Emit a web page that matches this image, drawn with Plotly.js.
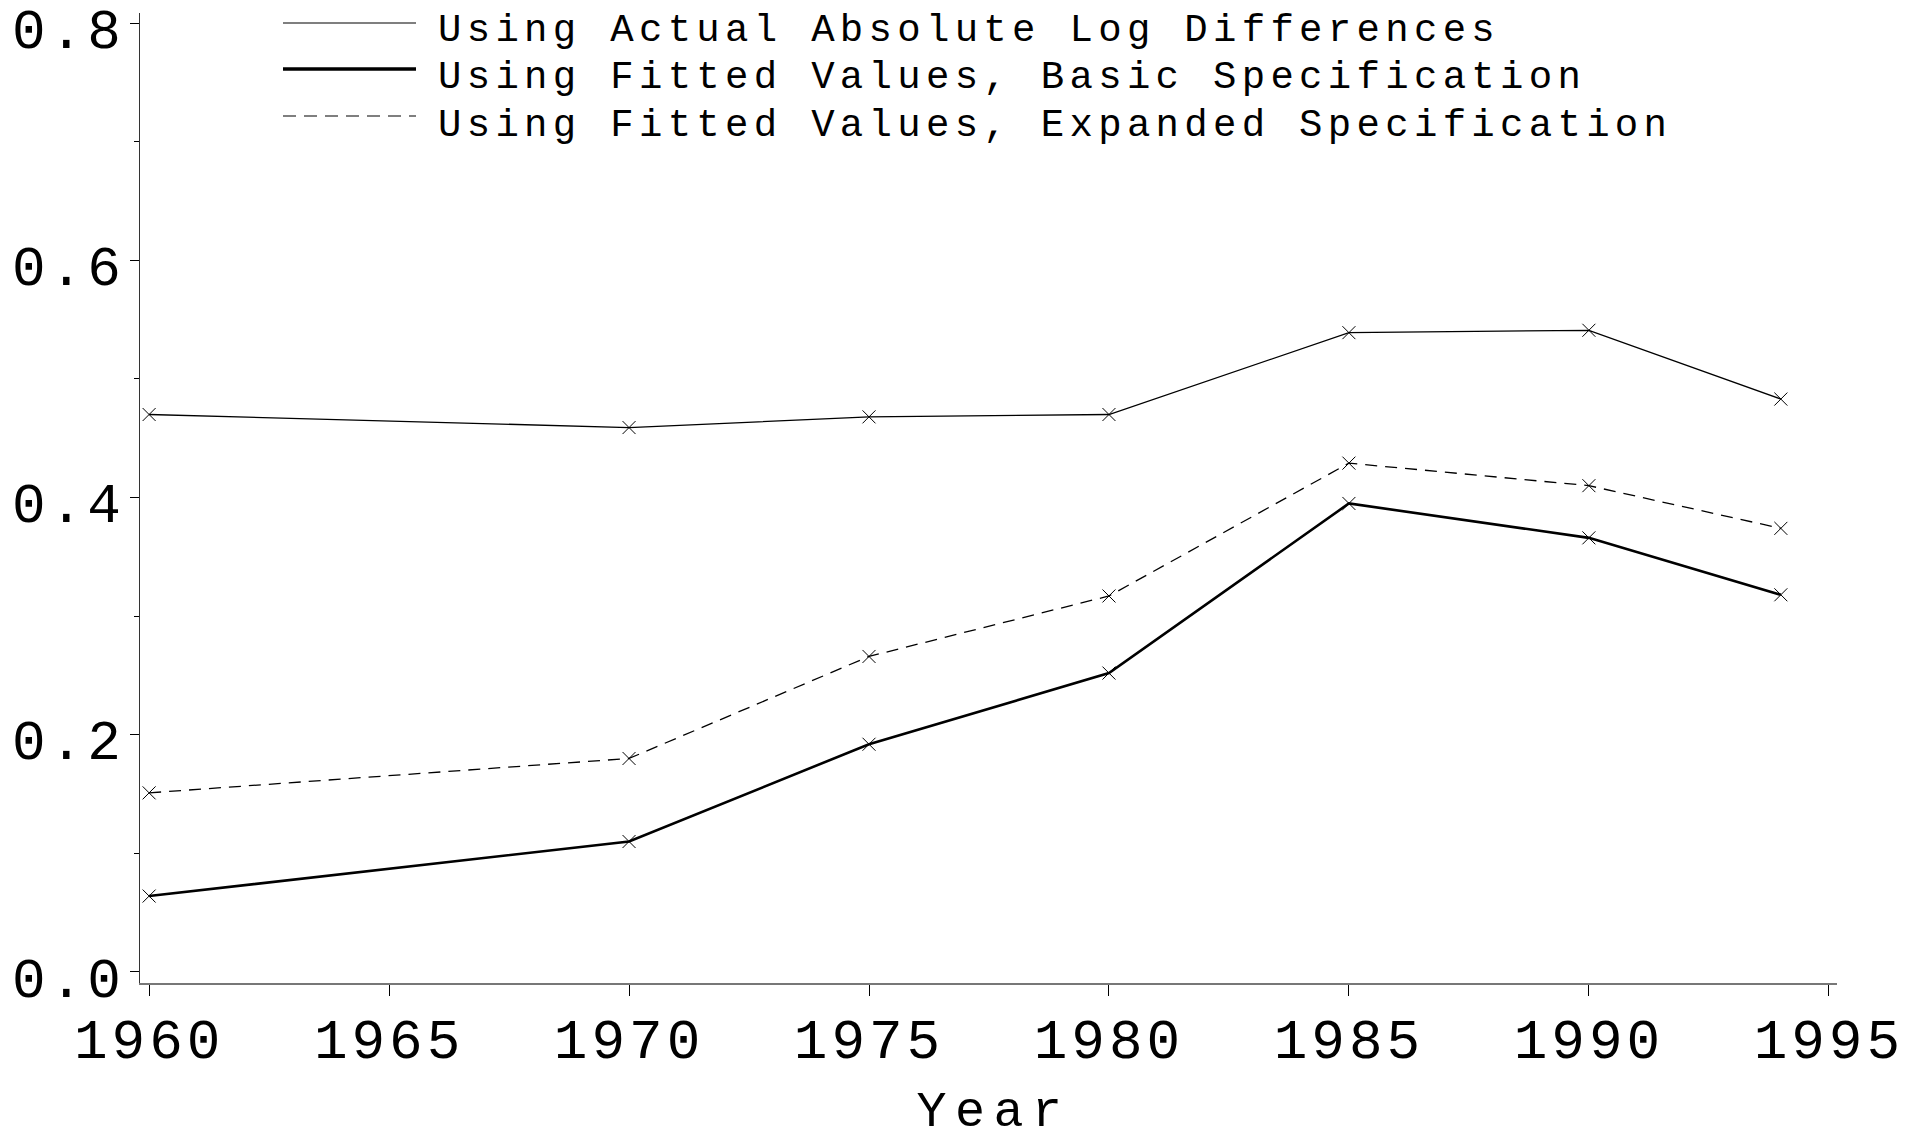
<!DOCTYPE html>
<html>
<head>
<meta charset="utf-8">
<script src="https://cdn.plot.ly/plotly-3.0.1.min.js"></script>
<style>
  html, body { margin: 0; padding: 0; background: #fff; }
  #chart { width: 1921px; height: 1132px; }
  .xtick text, .ytick text { letter-spacing: 4px; }
  .g-xtitle text { letter-spacing: 8.5px; transform: translate(5px, 9px); }
  .annotation-text { letter-spacing: 5.3px; }
</style>
</head>
<body>
<div id="chart"></div>
<script>
// ---- data ----
const years = [1960, 1970, 1975, 1980, 1985, 1990, 1994];
const actualAbsLogDiff = [0.470, 0.459, 0.468, 0.470, 0.539, 0.541, 0.483];
const fittedBasic      = [0.064, 0.110, 0.192, 0.252, 0.395, 0.366, 0.318];
const fittedExpanded   = [0.151, 0.180, 0.266, 0.317, 0.429, 0.410, 0.374];
const seriesNames = [
  'Using Actual Absolute Log Differences',
  'Using Fitted Values, Basic Specification',
  'Using Fitted Values, Expanded Specification'
];
const xTickVals = [1960, 1965, 1970, 1975, 1980, 1985, 1990, 1995];
const yTickVals = [0.0, 0.2, 0.4, 0.6, 0.8];
const xAxisTitle = 'Year';

// ---- styles ----
const FONT = 'Liberation Mono, DejaVu Sans Mono, monospace';
const lineStyles = [
  {color: '#000', width: 1.3, dash: 'solid'},
  {color: '#000', width: 2.6, dash: 'solid'},
  {color: '#000', width: 1.3, dash: '12px,8px'}
];
const seriesData = [actualAbsLogDiff, fittedBasic, fittedExpanded];

const traces = seriesData.map((vals, i) => ({
  type: 'scatter',
  mode: 'lines+markers',
  name: seriesNames[i],
  x: years,
  y: vals,
  line: lineStyles[i],
  marker: {symbol: 'x-thin-open', size: 13, color: '#000', line: {width: 1, color: '#000'}},
  showlegend: false
}));

// plot area in pixels
const W = 1921, H = 1132;
const L = 140, R = 84, T = 13, B = 149;
const plotW = W - L - R, plotH = H - T - B;
const px2paperX = px => (px - L) / plotW;
const px2paperY = py => (H - B - py) / plotH;

// custom legend (long line samples)
const legendRowsY = [23, 69, 116];
const legendLineX0 = 283, legendLineX1 = 416, legendTextX = 436;
const legendDash = ['solid', 'solid', '13px,8px'];
const legendWidths = [1.2, 3.5, 1.2];
const shapes = legendRowsY.map((ry, i) => ({
  type: 'line', xref: 'paper', yref: 'paper',
  x0: px2paperX(legendLineX0), x1: px2paperX(legendLineX1),
  y0: px2paperY(ry), y1: px2paperY(ry),
  line: {color: '#000', width: legendWidths[i], dash: legendDash[i]}
}));
const annotations = legendRowsY.map((ry, i) => ({
  xref: 'paper', yref: 'paper',
  x: px2paperX(legendTextX), y: px2paperY(ry + 8 + i),
  xanchor: 'left', yanchor: 'middle',
  text: seriesNames[i], showarrow: false,
  font: {family: FONT, size: 39, color: '#000'}
}));

const layout = {
  width: W, height: H,
  margin: {l: L, r: R, t: T, b: B, pad: 0},
  paper_bgcolor: '#fff', plot_bgcolor: '#fff',
  showlegend: false,
  xaxis: {
    range: [1959.81, 1995.17],
    tickmode: 'array', tickvals: xTickVals,
    ticks: 'outside', ticklen: 11, tickwidth: 1, tickcolor: '#000',
    showline: true, linecolor: '#777', linewidth: 2,
    showgrid: false, zeroline: false,
    tickfont: {family: FONT, size: 56, color: '#000'},
    ticklabelstandoff: -5,
    ticklabeloverflow: 'allow',
    title: {text: xAxisTitle, font: {family: FONT, size: 50, color: '#000'}, standoff: 34},
    automargin: false
  },
  yaxis: {
    range: [-0.0093, 0.8085],
    tickmode: 'array', tickvals: yTickVals, tickformat: '.1f',
    ticks: 'outside', ticklen: 9, tickwidth: 1, tickcolor: '#000',
    minor: {dtick: 0.1, tick0: 0, ticks: 'outside', ticklen: 5, tickwidth: 1, tickcolor: '#000', showgrid: false},
    showline: true, linecolor: '#333', linewidth: 1,
    showgrid: false, zeroline: false,
    tickfont: {family: FONT, size: 56, color: '#000'},
    ticklabelstandoff: -6,
    ticklabelshift: 5,
    ticklabeloverflow: 'allow',
    automargin: false
  },
  shapes: shapes,
  annotations: annotations
};

Plotly.newPlot('chart', traces, layout, {displayModeBar: false, staticPlot: true});
</script>
</body>
</html>
